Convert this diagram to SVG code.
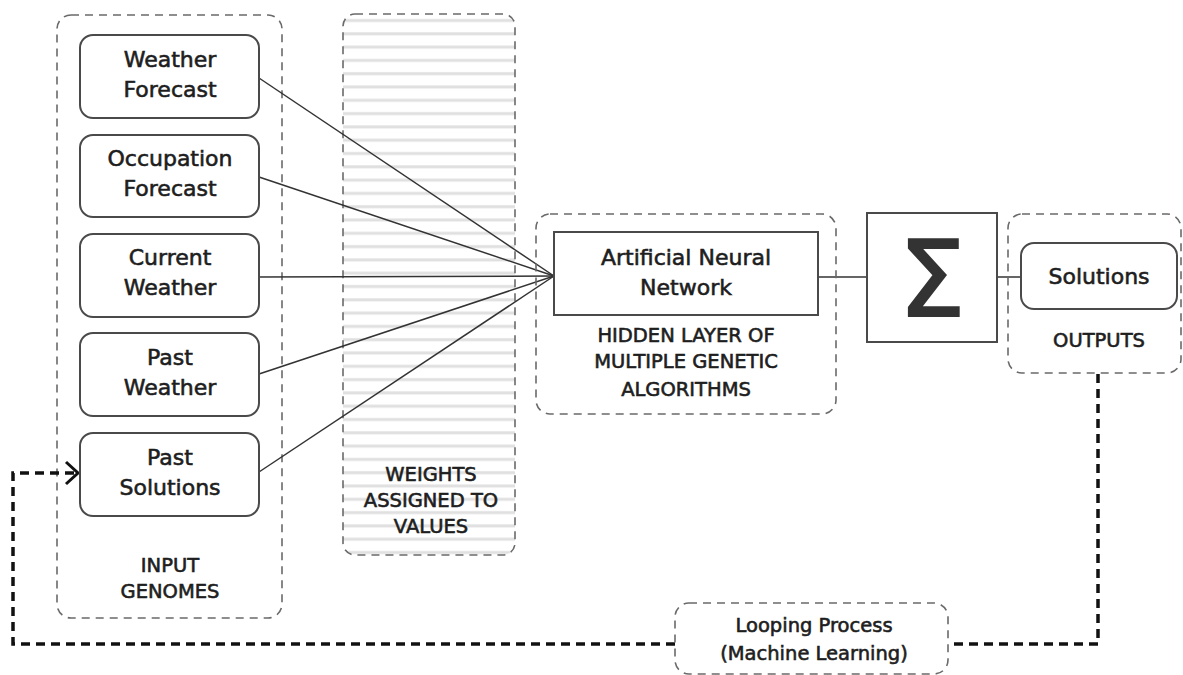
<svg xmlns="http://www.w3.org/2000/svg" width="1183" height="675" viewBox="0 0 1183 675">
<style>
.cont{fill:none;stroke:#6a6a6a;stroke-width:1.6;stroke-dasharray:8 6}
.node{fill:#fff;stroke:#4a4a4a;stroke-width:2}
.box{fill:#fff;stroke:#4a4a4a;stroke-width:2}
.t{font-family:"DejaVu Sans",sans-serif;font-size:22px;fill:#1e1e1e;stroke:#1e1e1e;stroke-width:0.6;text-anchor:middle}
.c{font-family:"DejaVu Sans",sans-serif;font-size:19.5px;fill:#1e1e1e;stroke:#1e1e1e;stroke-width:0.6;text-anchor:middle}
.ln{stroke:#333;stroke-width:1.5;fill:none}
.loop{stroke:#111;stroke-width:3.5;fill:none;stroke-dasharray:9 6}
</style>
<defs>
<pattern id="stripes" x="0" y="14" width="10" height="13.3" patternUnits="userSpaceOnUse">
<rect x="0" y="5" width="10" height="3" fill="#e0e0e0"/>
</pattern>
</defs>
<rect width="1183" height="675" fill="#fff"/>

<g id="weights">
<rect x="343" y="14" width="172" height="541" rx="12" fill="url(#stripes)"/>
<rect x="343" y="14" width="172" height="541" rx="12" class="cont"/>
<text class="c" x="431" y="481">WEIGHTS</text>
<text class="c" x="431" y="507">ASSIGNED TO</text>
<text class="c" x="431" y="533">VALUES</text>
</g>

<g id="input-genomes">
<rect x="57" y="15" width="225" height="603" rx="14" class="cont"/>
<text class="c" x="170" y="572">INPUT</text>
<text class="c" x="170" y="598">GENOMES</text>
</g>

<g id="connectors">
<line class="ln" x1="259" y1="78" x2="554" y2="276"/>
<line class="ln" x1="259" y1="177" x2="554" y2="276"/>
<line class="ln" x1="259" y1="277" x2="554" y2="276"/>
<line class="ln" x1="259" y1="374" x2="554" y2="276"/>
<line class="ln" x1="259" y1="472" x2="554" y2="276"/>
<line class="ln" x1="818" y1="277" x2="867" y2="277"/>
<line class="ln" x1="997" y1="277" x2="1021" y2="277"/>
<polyline class="loop" points="1098,374 1098,644 950,644"/>
<polyline class="loop" points="675,644 13,644 13,473 74,473"/>
<polyline points="66,462 78,473 66,484" fill="none" stroke="#111" stroke-width="3"/>
</g>

<g id="weather-forecast">
<rect x="80" y="35" width="179" height="83" rx="13" class="node"/>
<text class="t" x="170" y="67">Weather</text>
<text class="t" x="170" y="97">Forecast</text>
</g>
<g id="occupation-forecast">
<rect x="80" y="135" width="179" height="82" rx="13" class="node"/>
<text class="t" x="170" y="166">Occupation</text>
<text class="t" x="170" y="196">Forecast</text>
</g>
<g id="current-weather">
<rect x="80" y="234" width="179" height="83" rx="13" class="node"/>
<text class="t" x="170" y="265">Current</text>
<text class="t" x="170" y="295">Weather</text>
</g>
<g id="past-weather">
<rect x="80" y="333" width="179" height="83" rx="13" class="node"/>
<text class="t" x="170" y="365">Past</text>
<text class="t" x="170" y="395">Weather</text>
</g>
<g id="past-solutions">
<rect x="80" y="433" width="179" height="83" rx="13" class="node"/>
<text class="t" x="170" y="465">Past</text>
<text class="t" x="170" y="495">Solutions</text>
</g>

<g id="hidden-layer">
<rect x="536" y="214" width="300" height="200" rx="14" class="cont"/>
<rect x="554" y="232" width="264" height="83" class="box"/>
<text class="t" x="686" y="265">Artificial Neural</text>
<text class="t" x="686" y="295">Network</text>
<text class="c" x="686" y="342">HIDDEN LAYER OF</text>
<text class="c" x="686" y="368">MULTIPLE GENETIC</text>
<text class="c" x="686" y="396">ALGORITHMS</text>
</g>

<g id="sigma">
<rect x="867" y="213" width="130" height="129" class="box"/>
<text x="932" y="316" font-family="DejaVu Sans, sans-serif" font-size="106" fill="#333" stroke="#333" stroke-width="2" text-anchor="middle">Σ</text>
</g>

<g id="outputs">
<rect x="1008" y="214" width="173" height="159" rx="14" class="cont"/>
<rect x="1021" y="243" width="156" height="66" rx="13" class="node"/>
<text class="t" x="1099" y="284">Solutions</text>
<text class="c" x="1099" y="347">OUTPUTS</text>
</g>

<g id="looping-process">
<rect x="675" y="603" width="273" height="71" rx="14" class="cont" fill="#fff"/>
<text class="c" x="814" y="632">Looping Process</text>
<text class="c" x="814" y="660">(Machine Learning)</text>
</g>
</svg>
